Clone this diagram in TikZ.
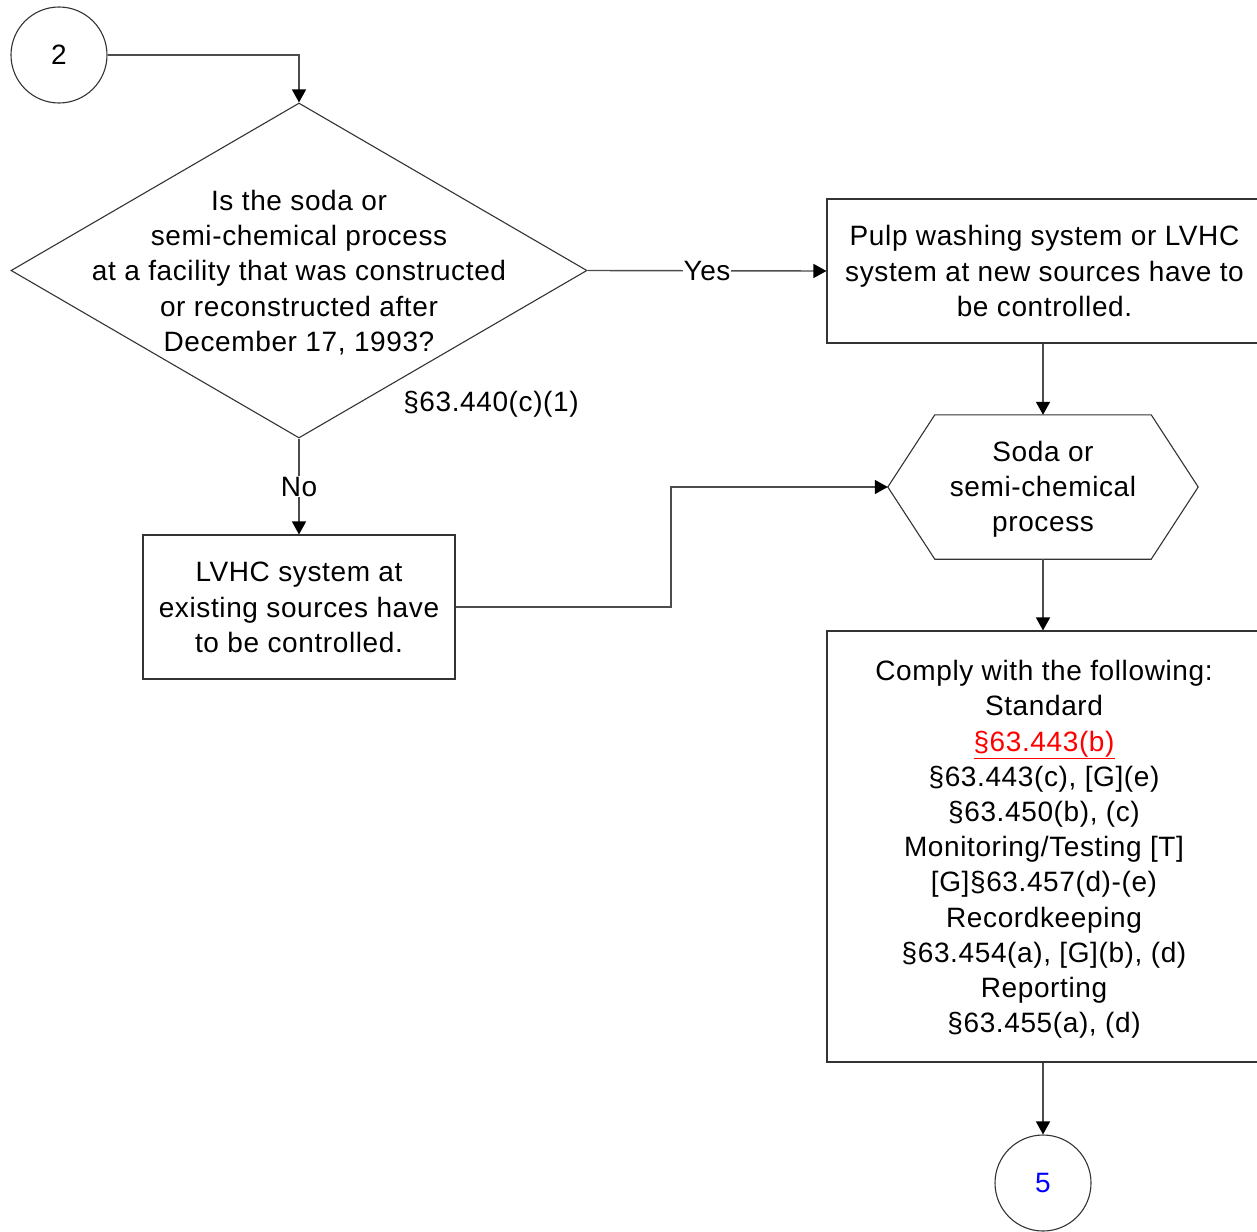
\documentclass[tikz,border=0pt]{standalone}
\usepackage{fontspec}
\setmainfont{Liberation Sans}[LetterSpace=2.2]
\usetikzlibrary{arrows.meta,shapes.geometric}
\begin{document}
\begin{tikzpicture}[x=1pt,y=-1pt,
  txt/.style={font=\fontsize{28}{35.2}\selectfont, align=center, inner sep=0pt},
  shp/.style={draw=black!80, line width=1.1pt},
  line/.style={draw=black!70, line width=1.4pt},
  arr/.style={line, -{Triangle[length=13pt,width=14pt,color=black]}},
  lbl/.style={txt, fill=white, inner sep=1pt}
]
\useasboundingbox (0,0) rectangle (1257,1231);
\node[circle, shp, minimum size=96pt, inner sep=0pt, txt] (c2) at (59,55) {2};
\node[diamond, shp, minimum width=576pt, minimum height=335pt, inner sep=0pt] (dia) at (299,270.5) {};
\node[txt] (diatext) at (299,272.5) {Is the soda or\\semi-chemical process\\at a facility that was constructed\\or reconstructed after\\December 17, 1993?};
\node[txt] (ref) at (491,404) {§63.440(c)(1)};
\node[rectangle, shp, minimum width=435pt, minimum height=144pt] (pulp) at (1044.5,271) {};
\node[txt] (pulptext) at (1044.5,271) {Pulp washing system or LVHC\\system at new sources have to\\be controlled.};
\node[minimum width=310pt, minimum height=144pt, inner sep=0pt] (hex) at (1043,487) {};
\draw[shp] (hex.west) -- ([xshift=47pt]hex.north west) -- ([xshift=-47pt]hex.north east) -- (hex.east) -- ([xshift=-47pt]hex.south east) -- ([xshift=47pt]hex.south west) -- cycle;
\node[txt] (hextext) at (1043,489.5) {Soda or\\semi-chemical\\process};
\node[rectangle, shp, minimum width=435pt, minimum height=431pt] (comply) at (1044.5,846.5) {};
\node[txt] (complytext) at (1044,849.5) {Comply with the following:\\Standard\\{\color{red}\underline{§63.443(b)}}\\§63.443(c), [G](e)\\§63.450(b), (c)\\Monitoring/Testing [T]\\{[G]§63.457(d)-(e)}\\Recordkeeping\\§63.454(a), [G](b), (d)\\Reporting\\§63.455(a), (d)};
\node[circle, shp, minimum size=96pt, inner sep=0pt, txt, text=blue] (c5) at (1043,1183) {5};
\node[rectangle, shp, minimum width=312pt, minimum height=144pt] (lvhc) at (299,607) {};
\node[txt] (lvhctext) at (299,607.5) {LVHC system at\\existing sources have\\to be controlled.};
\coordinate (bend) at (671,547);
\draw[arr] (c2.east) -| (dia.north);
\draw[arr] (dia.east) -- node[lbl] {Yes} (pulp.west);
\draw[arr] (dia.south) -- node[lbl] {No} (lvhc.north);
\draw[arr] (pulp.south -| hex.north) -- (hex.north);
\draw[arr] (hex.south) -- (hex.south |- comply.north);
\draw[arr] (comply.south -| c5.north) -- (c5.north);
\draw[arr] (lvhc.east) -| (bend) |- (hex.west);
\end{tikzpicture}
\end{document}
